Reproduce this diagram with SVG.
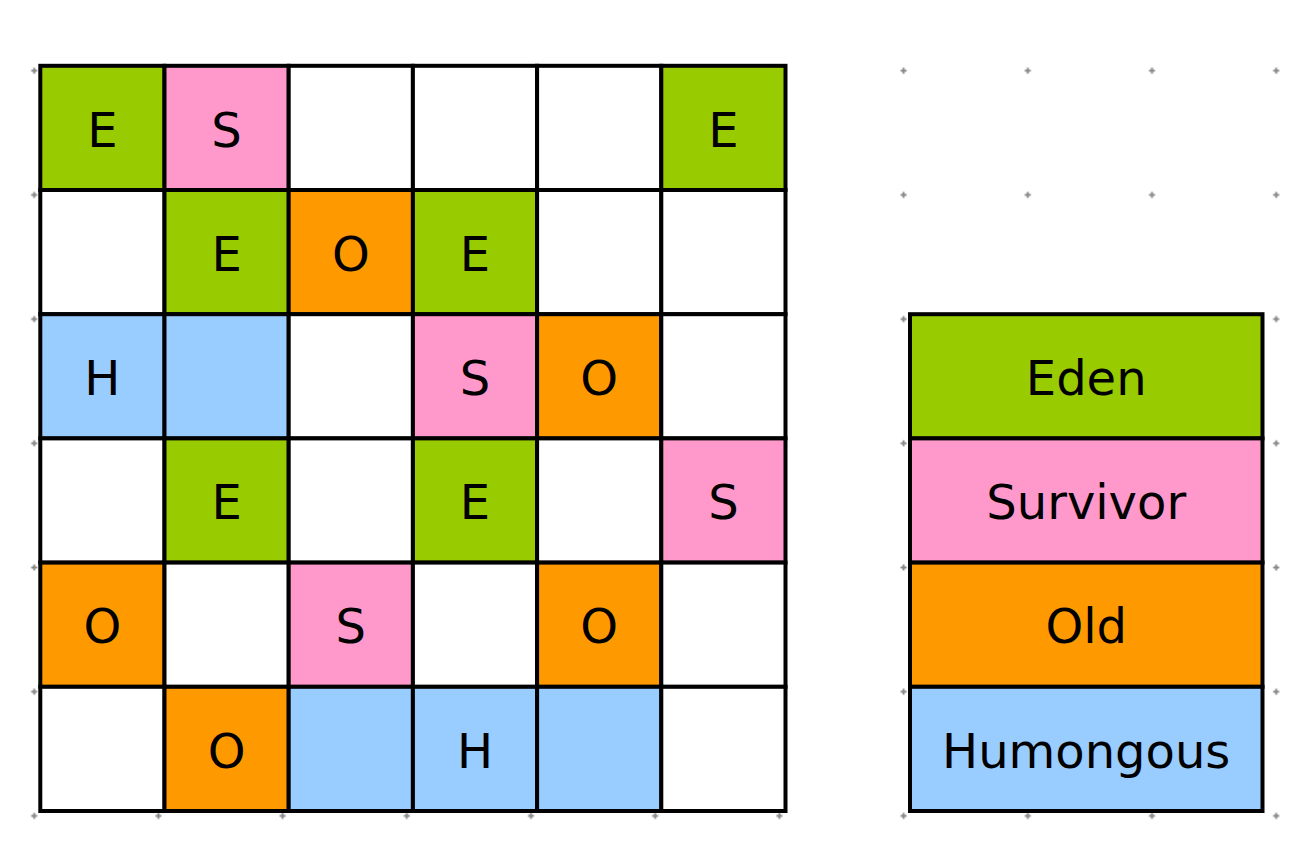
<svg xmlns="http://www.w3.org/2000/svg" width="1310" height="846" viewBox="0 0 1310 846">
<style>
.c{stroke:#000;stroke-width:4}
.w{fill:#fff}.e{fill:#99cc00}.s{fill:#ff99cc}.o{fill:#ff9900}.h{fill:#99ccff}
text{font-family:"DejaVu Sans","Liberation Sans",sans-serif;font-size:48px;fill:#000;text-anchor:middle}
</style>
<defs>
<pattern id="dots" patternUnits="userSpaceOnUse" x="-27.9" y="8.6" width="124.2" height="124.2">
<path d="M59.1 62.1h6M62.1 59.1v6" stroke="#888" stroke-width="2" fill="none"/>
</pattern>
</defs>
<rect width="1310" height="846" fill="#fff"/>
<rect x="20" y="50" width="1275" height="785" fill="url(#dots)"/>
<g id="grid">
<g id="r0c0"><rect class="c e" x="40.3" y="65.8" width="124.2" height="124.2"/><text x="102.4" y="146.6">E</text></g>
<g id="r0c1"><rect class="c s" x="164.5" y="65.8" width="124.2" height="124.2"/><text x="226.6" y="146.6">S</text></g>
<g id="r0c2"><rect class="c w" x="288.7" y="65.8" width="124.2" height="124.2"/></g>
<g id="r0c3"><rect class="c w" x="412.9" y="65.8" width="124.2" height="124.2"/></g>
<g id="r0c4"><rect class="c w" x="537.1" y="65.8" width="124.2" height="124.2"/></g>
<g id="r0c5"><rect class="c e" x="661.3" y="65.8" width="124.2" height="124.2"/><text x="723.4" y="146.6">E</text></g>

<g id="r1c0"><rect class="c w" x="40.3" y="190" width="124.2" height="124.2"/></g>
<g id="r1c1"><rect class="c e" x="164.5" y="190" width="124.2" height="124.2"/><text x="226.6" y="270.8">E</text></g>
<g id="r1c2"><rect class="c o" x="288.7" y="190" width="124.2" height="124.2"/><text x="350.8" y="270.8">O</text></g>
<g id="r1c3"><rect class="c e" x="412.9" y="190" width="124.2" height="124.2"/><text x="475" y="270.8">E</text></g>
<g id="r1c4"><rect class="c w" x="537.1" y="190" width="124.2" height="124.2"/></g>
<g id="r1c5"><rect class="c w" x="661.3" y="190" width="124.2" height="124.2"/></g>

<g id="r2c0"><rect class="c h" x="40.3" y="314.2" width="124.2" height="124.2"/><text x="102.4" y="395">H</text></g>
<g id="r2c1"><rect class="c h" x="164.5" y="314.2" width="124.2" height="124.2"/></g>
<g id="r2c2"><rect class="c w" x="288.7" y="314.2" width="124.2" height="124.2"/></g>
<g id="r2c3"><rect class="c s" x="412.9" y="314.2" width="124.2" height="124.2"/><text x="475" y="395">S</text></g>
<g id="r2c4"><rect class="c o" x="537.1" y="314.2" width="124.2" height="124.2"/><text x="599.2" y="395">O</text></g>
<g id="r2c5"><rect class="c w" x="661.3" y="314.2" width="124.2" height="124.2"/></g>

<g id="r3c0"><rect class="c w" x="40.3" y="438.4" width="124.2" height="124.2"/></g>
<g id="r3c1"><rect class="c e" x="164.5" y="438.4" width="124.2" height="124.2"/><text x="226.6" y="519.2">E</text></g>
<g id="r3c2"><rect class="c w" x="288.7" y="438.4" width="124.2" height="124.2"/></g>
<g id="r3c3"><rect class="c e" x="412.9" y="438.4" width="124.2" height="124.2"/><text x="475" y="519.2">E</text></g>
<g id="r3c4"><rect class="c w" x="537.1" y="438.4" width="124.2" height="124.2"/></g>
<g id="r3c5"><rect class="c s" x="661.3" y="438.4" width="124.2" height="124.2"/><text x="723.4" y="519.2">S</text></g>

<g id="r4c0"><rect class="c o" x="40.3" y="562.6" width="124.2" height="124.2"/><text x="102.4" y="643.4">O</text></g>
<g id="r4c1"><rect class="c w" x="164.5" y="562.6" width="124.2" height="124.2"/></g>
<g id="r4c2"><rect class="c s" x="288.7" y="562.6" width="124.2" height="124.2"/><text x="350.8" y="643.4">S</text></g>
<g id="r4c3"><rect class="c w" x="412.9" y="562.6" width="124.2" height="124.2"/></g>
<g id="r4c4"><rect class="c o" x="537.1" y="562.6" width="124.2" height="124.2"/><text x="599.2" y="643.4">O</text></g>
<g id="r4c5"><rect class="c w" x="661.3" y="562.6" width="124.2" height="124.2"/></g>

<g id="r5c0"><rect class="c w" x="40.3" y="686.8" width="124.2" height="124.2"/></g>
<g id="r5c1"><rect class="c o" x="164.5" y="686.8" width="124.2" height="124.2"/><text x="226.6" y="767.6">O</text></g>
<g id="r5c2"><rect class="c h" x="288.7" y="686.8" width="124.2" height="124.2"/></g>
<g id="r5c3"><rect class="c h" x="412.9" y="686.8" width="124.2" height="124.2"/><text x="475" y="767.6">H</text></g>
<g id="r5c4"><rect class="c h" x="537.1" y="686.8" width="124.2" height="124.2"/></g>
<g id="r5c5"><rect class="c w" x="661.3" y="686.8" width="124.2" height="124.2"/></g>
</g>
<g id="legend">
<g id="eden"><rect class="c e" x="910" y="314.2" width="352.5" height="124.2"/><text x="1086.2" y="395">Eden</text></g>
<g id="survivor"><rect class="c s" x="910" y="438.4" width="352.5" height="124.2"/><text x="1086.2" y="519.2">Survivor</text></g>
<g id="old"><rect class="c o" x="910" y="562.6" width="352.5" height="124.2"/><text x="1086.2" y="643.4">Old</text></g>
<g id="humongous"><rect class="c h" x="910" y="686.8" width="352.5" height="124.2"/><text x="1086.2" y="767.6">Humongous</text></g>
</g>
<g id="connectors"/>
</svg>
